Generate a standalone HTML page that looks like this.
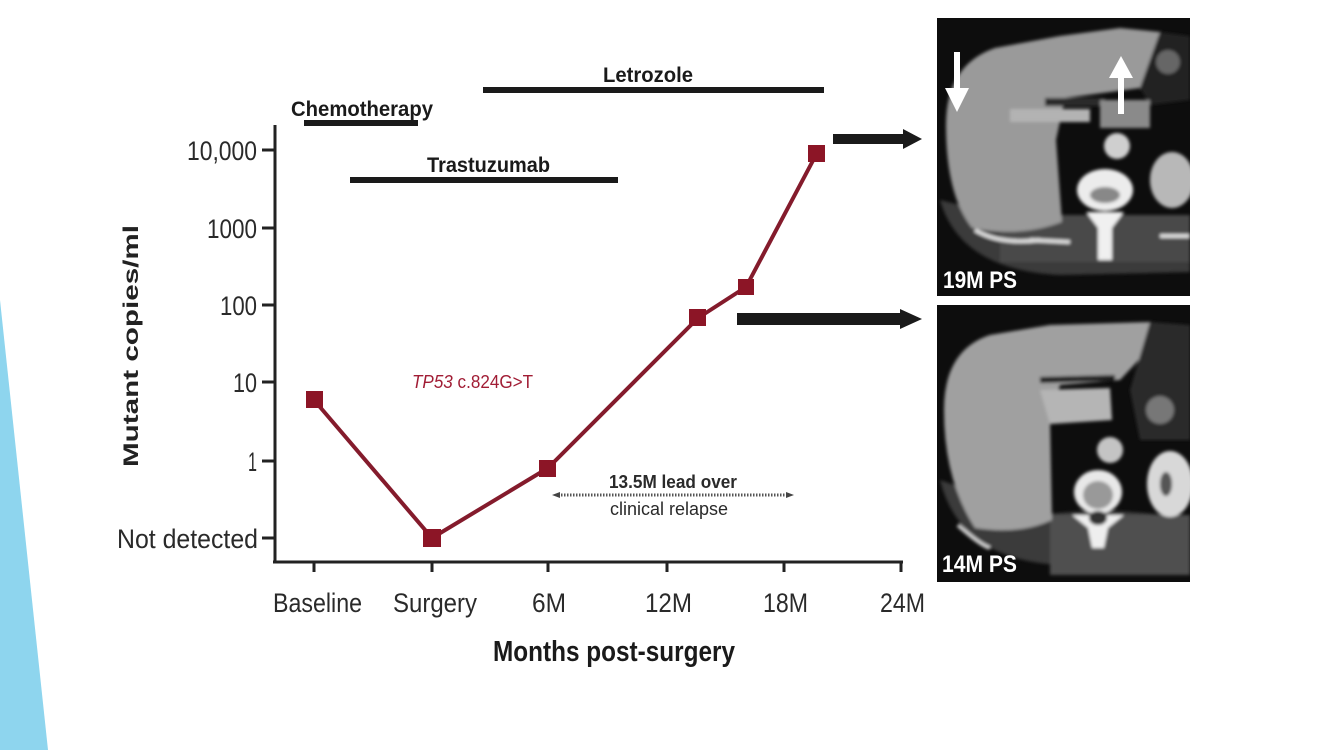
<!DOCTYPE html>
<html><head><meta charset="utf-8"><style>
html,body{margin:0;padding:0;background:#fff;}
svg{display:block;}
.n{font-family:"Liberation Sans Narrow","Liberation Sans",sans-serif;}
.b{font-family:"Liberation Sans Narrow","Liberation Sans",sans-serif;font-weight:bold;}
</style></head><body>
<svg width="1333" height="750" viewBox="0 0 1333 750" xmlns="http://www.w3.org/2000/svg">
<rect width="1333" height="750" fill="#fff"/>
<polygon points="0,300 48,750 0,750" fill="#8ed5ee"/>

<!-- treatment bars -->
<g fill="#1a1a1a">
<rect x="304" y="120" width="114" height="6"/>
<rect x="350" y="177" width="268" height="6"/>
<rect x="483" y="87" width="341" height="6"/>
</g>
<text class="b" x="291" y="116" font-size="21" fill="#1a1a1a" textLength="142" lengthAdjust="spacingAndGlyphs">Chemotherapy</text>
<text class="b" x="427" y="172" font-size="21" fill="#1a1a1a" textLength="123" lengthAdjust="spacingAndGlyphs">Trastuzumab</text>
<text class="b" x="603" y="82" font-size="21" fill="#1a1a1a" textLength="90" lengthAdjust="spacingAndGlyphs">Letrozole</text>

<!-- axes -->
<g stroke="#222" stroke-width="3" fill="none">
<line x1="275" y1="125" x2="275" y2="563"/>
<line x1="273" y1="562" x2="903" y2="562"/>
<line x1="262" y1="150" x2="275" y2="150"/>
<line x1="262" y1="228" x2="275" y2="228"/>
<line x1="262" y1="305" x2="275" y2="305"/>
<line x1="262" y1="382" x2="275" y2="382"/>
<line x1="262" y1="461" x2="275" y2="461"/>
<line x1="262" y1="538" x2="275" y2="538"/>
<line x1="314" y1="562" x2="314" y2="572"/>
<line x1="432" y1="562" x2="432" y2="572"/>
<line x1="548" y1="562" x2="548" y2="572"/>
<line x1="667" y1="562" x2="667" y2="572"/>
<line x1="784" y1="562" x2="784" y2="572"/>
<line x1="901" y1="562" x2="901" y2="572"/>
</g>

<!-- y tick labels -->
<g class="n" font-size="27" fill="#2a2a2a">
<text x="187" y="160" textLength="70" lengthAdjust="spacingAndGlyphs">10,000</text>
<text x="207" y="238" textLength="50" lengthAdjust="spacingAndGlyphs">1000</text>
<text x="220" y="315" textLength="37" lengthAdjust="spacingAndGlyphs">100</text>
<text x="233" y="392" textLength="24" lengthAdjust="spacingAndGlyphs">10</text>
<text x="248" y="471" textLength="9" lengthAdjust="spacingAndGlyphs">1</text>
<text x="117" y="548" textLength="141" lengthAdjust="spacingAndGlyphs">Not detected</text>
</g>

<!-- x tick labels -->
<g class="n" font-size="27" fill="#2a2a2a">
<text x="273" y="612" textLength="89" lengthAdjust="spacingAndGlyphs">Baseline</text>
<text x="393" y="612" textLength="84" lengthAdjust="spacingAndGlyphs">Surgery</text>
<text x="532" y="612" textLength="34" lengthAdjust="spacingAndGlyphs">6M</text>
<text x="645" y="612" textLength="47" lengthAdjust="spacingAndGlyphs">12M</text>
<text x="763" y="612" textLength="45" lengthAdjust="spacingAndGlyphs">18M</text>
<text x="880" y="612" textLength="45" lengthAdjust="spacingAndGlyphs">24M</text>
</g>

<text class="b" x="493" y="661" font-size="29" fill="#1a1a1a" textLength="242" lengthAdjust="spacingAndGlyphs">Months post-surgery</text>
<text x="0" y="0" transform="translate(138,467) rotate(-90)" font-family="Liberation Sans, sans-serif" font-weight="bold" font-size="21" fill="#222" textLength="242" lengthAdjust="spacingAndGlyphs">Mutant copies/ml</text>

<!-- series -->
<polyline points="314,400 432,538 548,468 698,318 746,287 817,153" fill="none" stroke="#841b2c" stroke-width="4" stroke-linejoin="round"/>
<g fill="#8c1526">
<rect x="306" y="391" width="17" height="17"/>
<rect x="423" y="529" width="18" height="18"/>
<rect x="539" y="460" width="17" height="17"/>
<rect x="689" y="309" width="17" height="17"/>
<rect x="738" y="279" width="16" height="16"/>
<rect x="808" y="145" width="17" height="17"/>
</g>

<text x="412" y="388" font-family="Liberation Sans Narrow, Liberation Sans, sans-serif" font-size="18" fill="#a11d35" textLength="121" lengthAdjust="spacingAndGlyphs"><tspan font-style="italic">TP53</tspan> c.824G&gt;T</text>

<!-- lead annotation -->
<text class="b" x="609" y="488" font-size="18" fill="#2a2a2a" textLength="128" lengthAdjust="spacingAndGlyphs">13.5M lead over</text>
<text class="n" x="610" y="515" font-size="18" fill="#2a2a2a" textLength="118" lengthAdjust="spacingAndGlyphs">clinical relapse</text>
<line x1="558" y1="495" x2="788" y2="495" stroke="#555" stroke-width="3" stroke-dasharray="1.5 1.5"/>
<polygon points="552,495 560,492 560,498" fill="#444"/>
<polygon points="794,495 786,492 786,498" fill="#444"/>

<!-- arrows -->
<rect x="833" y="134" width="74" height="10" fill="#1a1a1a"/>
<polygon points="903,129 922,139 903,149" fill="#1a1a1a"/>
<rect x="737" y="313" width="168" height="12" fill="#1a1a1a"/>
<polygon points="900,309 922,319 900,329" fill="#1a1a1a"/>

<defs>
<filter id="bl" x="-5%" y="-5%" width="110%" height="110%"><feGaussianBlur stdDeviation="1.6"/></filter>
<clipPath id="c1"><rect x="937" y="18" width="253" height="278"/></clipPath>
<clipPath id="c2"><rect x="937" y="305" width="253" height="277"/></clipPath>
</defs>

<!-- CT image 1 -->
<rect x="937" y="18" width="253" height="278" fill="#0d0d0d"/>
<g clip-path="url(#c1)" filter="url(#bl)">
<path d="M940 200 Q960 270 1060 275 L1190 272 L1190 230 Q1120 215 1040 225 Z" fill="#3a3a3a"/>
<path d="M1000 215 L1190 215 L1190 262 L1000 262 Z" fill="#4a4a4a"/>
<path d="M946 125 Q946 65 995 48 L1060 36 L1120 28 L1160 32 L1162 58 L1140 88 L1065 98 L1056 140 L1062 222 Q1020 238 972 228 Q946 195 946 125 Z" fill="#9a9a9a"/>
<path d="M1160 32 L1190 36 L1190 100 L1150 105 L1140 88 Z" fill="#222"/>
<circle cx="1168" cy="62" r="12" fill="#666"/>
<rect x="1010" y="109" width="80" height="13" fill="#b3b3b3"/>
<rect x="1045" y="98" width="60" height="8" fill="#2a2a2a"/>
<rect x="1100" y="100" width="50" height="28" fill="#8a8a8a"/>
<circle cx="1117" cy="146" r="13" fill="#cfcfcf"/>
<ellipse cx="1105" cy="190" rx="28" ry="21" fill="#ececec"/>
<ellipse cx="1105" cy="195" rx="15" ry="8" fill="#888"/>
<polygon points="1086,212 1124,212 1112,228 1112,260 1098,260 1098,228" fill="#f0f0f0"/>
<ellipse cx="1172" cy="180" rx="22" ry="28" fill="#b8b8b8"/>
<path d="M975 230 Q1000 245 1040 240" stroke="#ddd" stroke-width="4" fill="none"/>
<path d="M1030 240 L1070 242" stroke="#ddd" stroke-width="4" fill="none"/>
<line x1="1160" y1="236" x2="1190" y2="236" stroke="#ddd" stroke-width="4"/>
</g>
<g fill="#fff">
<rect x="954" y="52" width="6" height="42"/>
<polygon points="945,88 969,88 957,112"/>
<rect x="1118" y="72" width="6" height="42"/>
<polygon points="1109,78 1133,78 1121,56"/>
</g>
<text class="b" x="943" y="288" font-size="24" fill="#fff" textLength="74" lengthAdjust="spacingAndGlyphs">19M PS</text>

<!-- CT image 2 -->
<rect x="937" y="305" width="253" height="277" fill="#0d0d0d"/>
<g clip-path="url(#c2)" filter="url(#bl)">
<path d="M940 480 Q960 560 1060 565 L1190 565 L1190 520 Q1120 505 1040 515 Z" fill="#3a3a3a"/>
<path d="M1050 515 L1190 515 L1190 575 L1050 575 Z" fill="#505050"/>
<path d="M944 410 Q944 350 990 335 L1050 325 L1150 322 L1148 350 L1120 380 L1060 385 L1050 420 L1052 520 Q1020 535 975 528 Q944 480 944 410 Z" fill="#a0a0a0"/>
<path d="M1040 390 L1110 388 L1112 420 L1050 424 Z" fill="#b5b5b5"/>
<path d="M1040 380 L1115 378" stroke="#1a1a1a" stroke-width="6"/>
<path d="M1150 322 L1190 325 L1190 440 L1140 440 L1130 390 Z" fill="#2a2a2a"/>
<circle cx="1160" cy="410" r="14" fill="#777"/>
<circle cx="1110" cy="450" r="13" fill="#c4c4c4"/>
<ellipse cx="1098" cy="492" rx="24" ry="22" fill="#e8e8e8"/>
<ellipse cx="1098" cy="495" rx="15" ry="14" fill="#999"/>
<polygon points="1072,515 1124,515 1108,528 1104,548 1092,548 1088,528" fill="#eee"/>
<ellipse cx="1098" cy="518" rx="9" ry="7" fill="#333"/>
<ellipse cx="1170" cy="484" rx="23" ry="33" fill="#d8d8d8"/>
<ellipse cx="1166" cy="484" rx="6" ry="12" fill="#555"/>
<path d="M958 525 Q980 545 990 548" stroke="#ccc" stroke-width="4" fill="none"/>
</g>
<text class="b" x="942" y="572" font-size="24" fill="#fff" textLength="75" lengthAdjust="spacingAndGlyphs">14M PS</text>
</svg>
</body></html>
